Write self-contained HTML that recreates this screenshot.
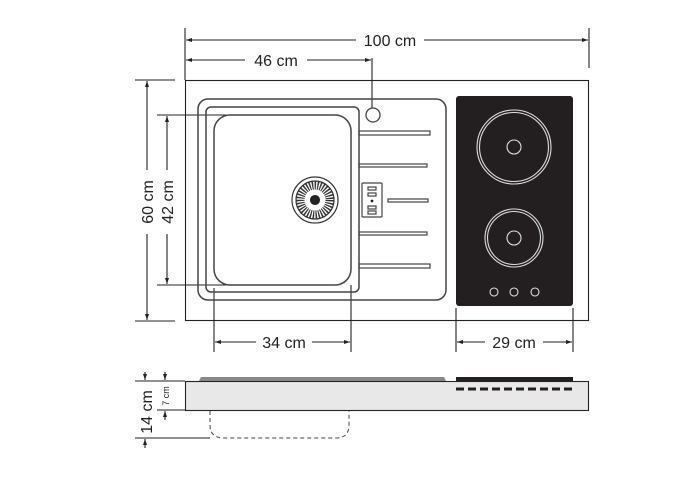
<!DOCTYPE html>
<html><head><style>
html,body{margin:0;padding:0;background:#fff}
svg{display:block}
text{font-family:"Liberation Sans",Arial,sans-serif;fill:#222}
</style></head><body>
<svg width="677" height="496" viewBox="0 0 677 496" xmlns="http://www.w3.org/2000/svg">
<defs>
<marker id="a" markerWidth="6" markerHeight="6" refX="6" refY="3" orient="auto-start-reverse" markerUnits="userSpaceOnUse"><path d="M0,1 L6,3 L0,5z" fill="#222"/></marker>
</defs>
<g stroke="#222" stroke-width="1.1" fill="none">
<line x1="185" y1="28" x2="185" y2="80"/>
<line x1="589" y1="28" x2="589" y2="68"/>
<line x1="372" y1="58" x2="372" y2="108"/>
<line x1="135" y1="80" x2="175" y2="80"/>
<line x1="135" y1="321" x2="175" y2="321"/>
<line x1="157" y1="115" x2="234" y2="115"/>
<line x1="157" y1="285" x2="234" y2="285"/>
<line x1="214" y1="288" x2="214" y2="352"/>
<line x1="351" y1="285" x2="351" y2="352"/>
<line x1="456" y1="308" x2="456" y2="352"/>
<line x1="573" y1="308" x2="573" y2="352"/>
<line x1="186" y1="40" x2="356" y2="40" marker-start="url(#a)"/>
<line x1="424" y1="40" x2="588" y2="40" marker-end="url(#a)"/>
<line x1="186" y1="60" x2="245" y2="60" marker-start="url(#a)"/>
<line x1="307" y1="60" x2="371" y2="60" marker-end="url(#a)"/>
<line x1="147" y1="81" x2="147" y2="170" marker-start="url(#a)"/>
<line x1="147" y1="234" x2="147" y2="320" marker-end="url(#a)"/>
<line x1="167" y1="116" x2="167" y2="170" marker-start="url(#a)"/>
<line x1="167" y1="234" x2="167" y2="284" marker-end="url(#a)"/>
<line x1="215" y1="342" x2="256" y2="342" marker-start="url(#a)"/>
<line x1="312" y1="342" x2="350" y2="342" marker-end="url(#a)"/>
<line x1="457" y1="342" x2="485" y2="342" marker-start="url(#a)"/>
<line x1="543" y1="342" x2="572" y2="342" marker-end="url(#a)"/>
<rect x="185.5" y="80.5" width="403" height="240"/>
<rect x="198" y="99" width="248" height="201" rx="10" stroke="#444" stroke-width="1.5"/>
<rect x="206" y="107" width="153" height="185" rx="5" stroke="#444" stroke-width="1.5"/>
<rect x="214" y="115" width="137" height="170" rx="16" stroke="#444" stroke-width="1.5"/>
<circle cx="373" cy="115" r="7" stroke="#444" stroke-width="1.3"/>
<g stroke="#444" stroke-width="1.2">
<rect x="359" y="131" width="71" height="4"/>
<rect x="359" y="164" width="68" height="3"/>
<rect x="388" y="199" width="40" height="3"/>
<rect x="359" y="232" width="68" height="3"/>
<rect x="359" y="264" width="71" height="4"/>
<rect x="362" y="183" width="20" height="34" rx="1"/>
<rect x="368" y="187" width="8" height="3"/>
<rect x="368" y="193" width="8" height="3"/>
<rect x="368" y="206" width="8" height="3"/>
<rect x="368" y="211" width="8" height="3"/>
</g>
<circle cx="372" cy="201" r="1.4" fill="#222" stroke="none"/>
<circle cx="315" cy="200" r="23" stroke="#333" stroke-width="1.2"/>
<circle cx="315" cy="200" r="19" stroke="#333" stroke-width="1.2"/>
<circle cx="315" cy="200" r="15" stroke="#333" stroke-width="9" stroke-dasharray="1.4 1.3"/>
<circle cx="315" cy="200" r="4.5" fill="#222"/>
</g>
<rect x="456" y="96" width="117" height="210" rx="3" fill="#231f20"/>
<g fill="none" stroke="#ddd" stroke-width="1.1">
<circle cx="514" cy="147" r="37"/><circle cx="514" cy="147" r="34.5"/><circle cx="514" cy="147" r="7"/>
<circle cx="514" cy="238" r="29"/><circle cx="514" cy="238" r="26.5"/><circle cx="514" cy="238" r="7"/>
<circle cx="494" cy="292" r="4"/><circle cx="514" cy="292" r="4"/><circle cx="535" cy="292" r="4"/>
</g>
<text x="390" y="46" font-size="16" text-anchor="middle">100 cm</text>
<text x="276" y="66" font-size="16" text-anchor="middle">46 cm</text>
<text x="284" y="348" font-size="16" text-anchor="middle">34 cm</text>
<text x="514" y="348" font-size="16" text-anchor="middle">29 cm</text>
<text transform="translate(153,202) rotate(-90)" font-size="16" text-anchor="middle">60 cm</text>
<text transform="translate(173,202) rotate(-90)" font-size="16" text-anchor="middle">42 cm</text>
<rect x="185.5" y="381.5" width="403" height="29" fill="#e8e8e8" stroke="#222" stroke-width="1.1"/>
<path d="M199,381 L201,377 L444,377 L446,381z" fill="#888"/>
<rect x="456" y="377" width="117" height="4" fill="#231f20"/>
<line x1="456" y1="389" x2="574" y2="389" stroke="#231f20" stroke-width="3" stroke-dasharray="8 4"/>
<path d="M210,411 L210,425 Q210,438 224,438 L336,438 Q349,438 349,425 L349,411" fill="none" stroke="#444" stroke-dasharray="4 3"/>
<g stroke="#222" fill="none" stroke-width="1.1">
<line x1="135" y1="381" x2="185" y2="381"/>
<line x1="135" y1="438" x2="210" y2="438"/>
<line x1="157" y1="410" x2="185" y2="410"/>
<line x1="145" y1="372" x2="145" y2="380" marker-end="url(#a)"/>
<line x1="145" y1="448" x2="145" y2="439" marker-end="url(#a)"/>
<line x1="165" y1="372" x2="165" y2="380" marker-end="url(#a)"/>
<line x1="165" y1="420" x2="165" y2="411" marker-end="url(#a)"/>
</g>
<text transform="translate(152,412) rotate(-90)" font-size="16" text-anchor="middle">14 cm</text>
<text transform="translate(169,396) rotate(-90)" font-size="9" text-anchor="middle">7 cm</text>
</svg>
</body></html>
